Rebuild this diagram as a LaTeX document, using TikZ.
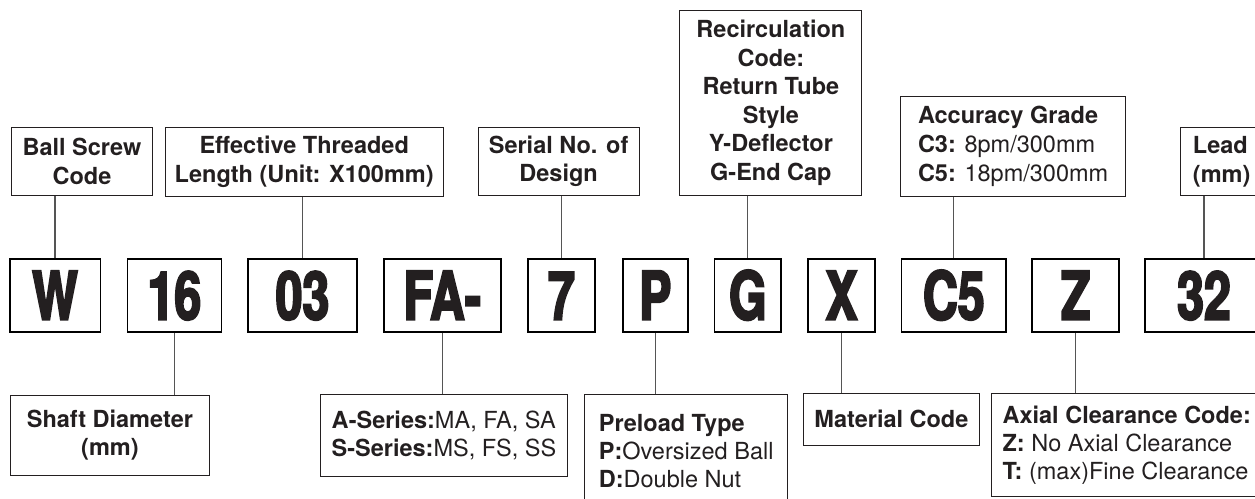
\documentclass[tikz,border=0pt]{standalone}
\usepackage{fontspec}
\usepackage{xcolor}
\setmainfont{TeX Gyre Heros}
\newfontfamily\codefont{texgyreheros-bold.otf}[FakeStretch=0.72,FakeBold=3]
\definecolor{inkgray}{HTML}{231F20}
\definecolor{linegray}{HTML}{555555}

\tikzset{
    codebox/.style={draw=black, line width=1.8pt, minimum height=73.3pt, inner sep=0pt,
        text height=48pt, text depth=0pt, text=inkgray,
        font=\codefont\fontsize{67}{67}\selectfont},
    labelbox/.style={draw=inkgray, line width=1pt, inner sep=0pt, align=center, text=inkgray,
        font=\fontsize{23.5}{28.6}\selectfont\bfseries},
    infobox/.style={labelbox, font=\fontsize{23.5}{28}\selectfont},
    tieline/.style={draw=linegray, line width=1.1pt},
}

\begin{document}
\begin{tikzpicture}[x=1pt, y=-1pt]
    \useasboundingbox (0,0) rectangle (1255,498);
    \clip (0,0) rectangle (1255,498);

    % Top labels
    \node[labelbox, minimum width=141.5pt, minimum height=67.7pt] (ballscrew) at (82,161.2) {Ball Screw\\Code};
    \node[labelbox, minimum width=278pt, minimum height=69.4pt] (effective) at (304.2,162) {Effective Threaded\\Length (Unit: X100mm)};
    \node[labelbox, minimum width=161pt, minimum height=68.4pt] (serial) at (558.6,161.5) {Serial No. of\\Design};
    \node[labelbox, minimum width=182pt, minimum height=184.3pt] (recirc) at (770.9,102.9) {Recirculation\\Code:\\Return Tube\\Style\\Y-Deflector\\G-End Cap};
    \node[labelbox, font=\fontsize{23.5}{28.6}\selectfont, align=left, minimum width=224.8pt, minimum height=99.3pt] (accuracy) at (1013.1,146.4)
        {\textbf{Accuracy Grade}\\\textbf{C3:} 8pm/300mm\\\textbf{C5:} 18pm/300mm};
    \node[labelbox, align=left, minimum width=82.4pt, minimum height=68.4pt] (lead) at (1221.7,161.5) {Lead\\(mm)};

    % Code row
    \node[codebox, minimum width=90.8pt] (W) at (55,295.6) {W};
    \node[codebox, minimum width=94pt] (dia) at (174.4,295.6) {16};
    \node[codebox, minimum width=108.5pt] (len) at (302.5,295.6) {03};
    \node[codebox, minimum width=117.3pt] (FA) at (442.3,295.6) {FA-};
    \node[codebox, minimum width=66.3pt] (sn) at (561.5,295.6) {7};
    \node[codebox, minimum width=65pt] (P) at (655.2,295.6) {P};
    \node[codebox, minimum width=66.8pt] (G) at (747.8,295.6) {G};
    \node[codebox, minimum width=67.3pt] (X) at (841.5,295.6) {X};
    \node[codebox, minimum width=104.5pt] (C5) at (953.8,295.6) {C5};
    \node[codebox, minimum width=86.7pt] (Z) at (1075.7,295.6) {Z};
    \node[codebox, minimum width=118pt] (pitch) at (1204,295.6) {32};

    % Bottom labels
    \node[labelbox, minimum width=199.7pt, minimum height=80.7pt, font=\fontsize{23.5}{28}\selectfont\bfseries] (shaft) at (109.9,435.4) {Shaft Diameter\\(mm)};
    \node[infobox, align=left, minimum width=247.5pt, minimum height=82.7pt] (series) at (444,435.4)
        {\textbf{A-Series:}MA, FA, SA\\\textbf{S-Series:}MS, FS, SS};
    \node[infobox, align=left, minimum width=203.1pt, minimum height=114pt] (preload) at (686.2,451)
        {\textbf{Preload Type}\\\textbf{P:}Oversized Ball\\\textbf{D:}Double Nut};
    \node[labelbox, minimum width=175.8pt, minimum height=51.7pt] (material) at (891.4,419.2) {Material Code};
    \node[infobox, align=left, minimum width=270.6pt, minimum height=103.2pt] (axial) at (1126.7,444.9)
        {\textbf{Axial Clearance Code:}\\\textbf{Z:} No Axial Clearance\\\textbf{T:} (max)Fine Clearance};

    % Connectors, top
    \draw[tieline] (ballscrew.south -| W.north) -- (W.north);
    \draw[tieline] (effective.south -| len.north) -- (len.north);
    \draw[tieline] (serial.south -| sn.north) -- (sn.north);
    \draw[tieline] (recirc.south -| G.north) -- (G.north);
    \draw[tieline] (accuracy.south -| C5.north) -- (C5.north);
    \draw[tieline] (lead.south -| pitch.north) -- (pitch.north);

    % Connectors, bottom
    \draw[tieline] (dia.south) -- (dia.south |- shaft.north);
    \draw[tieline] (FA.south) -- (FA.south |- series.north);
    \draw[tieline] (P.south) -- (P.south |- preload.north);
    \draw[tieline] (X.south) -- (X.south |- material.north);
    \draw[tieline] (Z.south) -- (Z.south |- axial.north);
\end{tikzpicture}
\end{document}
